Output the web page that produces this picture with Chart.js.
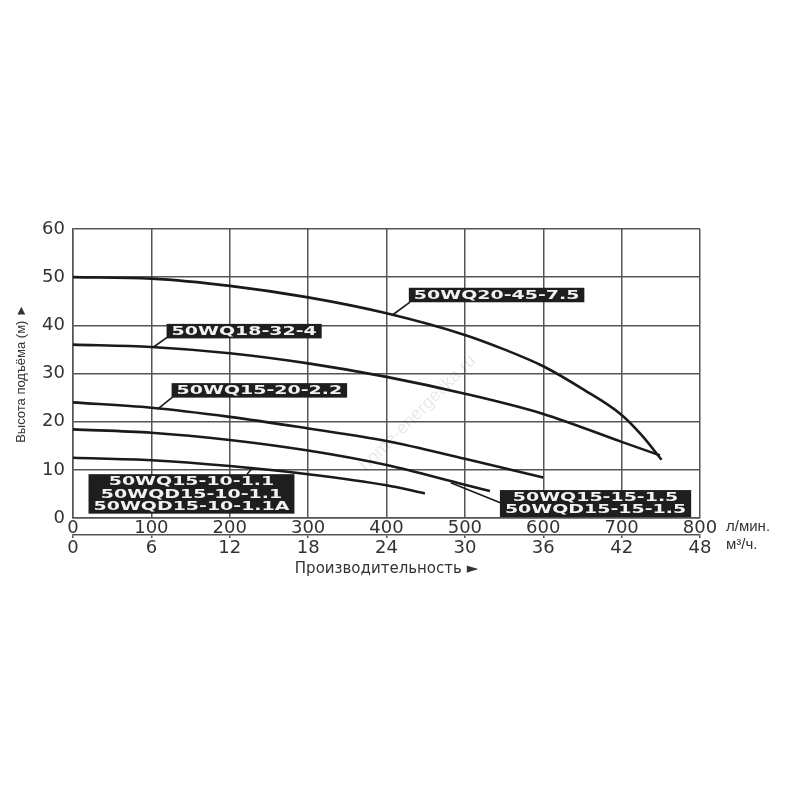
<!DOCTYPE html>
<html>
<head>
<meta charset="utf-8">
<script src="https://cdn.jsdelivr.net/npm/chart.js@4.4.1/dist/chart.umd.min.js"></script>
<style>
  html, body { margin: 0; padding: 0; background: #fff; }
  #wrap { width: 800px; height: 800px; }
</style>
</head>
<body>
<div id="wrap"><canvas id="pump-chart"></canvas></div>
<script>
// pump curves: flow in l/min, head in m
const names = ['50WQ20-45-7.5', '50WQ18-32-4', '50WQ15-20-2.2', '50WQ15-15-1.5', '50WQ15-10-1.1'];

const flow1 = [0, 100, 200, 300, 400, 500, 550, 600, 650, 700, 725, 751];
const head1 = [50, 49.7, 48.2, 45.8, 42.5, 38.0, 35.0, 31.5, 26.8, 21.4, 17.3, 12.1];

const flow2 = [0, 100, 200, 300, 400, 500, 600, 700, 749];
const head2 = [36, 35.5, 34.2, 32.1, 29.3, 25.8, 21.6, 15.8, 13.0];

const flow3 = [0, 100, 200, 300, 400, 500, 600];
const head3 = [24, 22.9, 21.0, 18.6, 16.0, 12.3, 8.4];

const flow4 = [0, 100, 200, 300, 400, 500, 532];
const head4 = [18.4, 17.7, 16.2, 14.0, 11.0, 6.9, 5.6];

const flow5 = [0, 100, 200, 300, 400, 449];
const head5 = [12.5, 12.0, 10.8, 9.1, 6.8, 5.1];

const headTicks = [0, 10, 20, 30, 40, 50, 60];
const lminTicks = [0, 100, 200, 300, 400, 500, 600, 700, 800];
const m3hTicks = [0, 6, 12, 18, 24, 30, 36, 42, 48];

function toPoints(xs, ys) {
  return xs.map((x, i) => ({ x: x, y: ys[i] }));
}

function setTicks(list) {
  return function (scale) {
    scale.ticks = list.map(v => ({ value: v }));
  };
}

// black name boxes with leader lines, positions in data units
const tags = [
  { lines: ['50WQ20-45-7.5'], at: [428.5, 47.8], from: [430, 44.8], to: [408, 42.2] },
  { lines: ['50WQ18-32-4'], at: [119.4, 40.3], from: [121, 37.6], to: [102.8, 35.5] },
  { lines: ['50WQ15-20-2.2'], at: [125.8, 28.0], from: [127, 25.1], to: [107.9, 22.6] },
  { lines: ['50WQ15-10-1.1', '50WQD15-10-1.1', '50WQD15-10-1.1A'], at: [19.8, 9.1], from: [221.6, 9.0], to: [229.2, 10.5] },
  { lines: ['50WQ15-15-1.5', '50WQD15-15-1.5'], at: [544.7, 5.8], from: [546, 3.1], to: [482, 7.3] }
];

const tagPlugin = {
  id: 'tags',
  beforeDatasetsDraw(chart) {
    // faint site watermark
    const ctx = chart.ctx;
    ctx.save();
    ctx.translate(418, 413);
    ctx.rotate(-Math.PI / 4);
    ctx.fillStyle = 'rgba(0,0,0,0.09)';
    ctx.font = '18px "Liberation Sans"';
    ctx.textAlign = 'center';
    ctx.textBaseline = 'middle';
    ctx.fillText('home-energetika.ru', 0, 0);
    ctx.restore();
  },
  afterDatasetsDraw(chart) {
    const ctx = chart.ctx;
    const xs = chart.scales.x, ys = chart.scales.y;
    const stretch = 1.58, lineH = 12.5;
    ctx.save();
    ctx.font = 'bold 12px "DejaVu Sans"';
    tags.forEach(t => {
      ctx.strokeStyle = '#1a1a1a';
      ctx.lineWidth = 1.6;
      ctx.beginPath();
      ctx.moveTo(xs.getPixelForValue(t.from[0]), ys.getPixelForValue(t.from[1]));
      ctx.lineTo(xs.getPixelForValue(t.to[0]), ys.getPixelForValue(t.to[1]));
      ctx.stroke();

      const w = Math.max(...t.lines.map(s => ctx.measureText(s).width)) * stretch + 10;
      const h = t.lines.length * lineH + 2;
      const left = xs.getPixelForValue(t.at[0]);
      const top = ys.getPixelForValue(t.at[1]);
      ctx.fillStyle = '#1e1e1e';
      ctx.fillRect(left, top, w, h);
      ctx.fillStyle = '#f2f2f2';
      ctx.textAlign = 'center';
      ctx.textBaseline = 'middle';
      t.lines.forEach((s, i) => {
        ctx.save();
        ctx.translate(left + w / 2, top + 1.5 + lineH * (i + 0.5));
        ctx.scale(stretch, 1);
        ctx.fillText(s, 0, 0);
        ctx.restore();
      });
    });

    // units next to the flow axes
    ctx.fillStyle = '#333';
    ctx.textAlign = 'left';
    ctx.textBaseline = 'middle';
    ctx.font = '15px "Liberation Sans"';
    ctx.fillText('л/мин.', xs.right + 26, xs.top + 9);
    ctx.fillText('м³/ч.', xs.right + 26, chart.scales.x2.top + 10);
    ctx.restore();
  }
};

const lineStyle = {
  showLine: true,
  fill: false,
  borderColor: '#1a1a1a',
  borderWidth: 2.6,
  pointRadius: 0,
  cubicInterpolationMode: 'monotone'
};

const gridColor = '#555';
const tickFont = { family: 'DejaVu Sans', size: 18 };

new Chart(document.getElementById('pump-chart'), {
  type: 'scatter',
  data: {
    datasets: [
      Object.assign({ label: names[0], data: toPoints(flow1, head1) }, lineStyle),
      Object.assign({ label: names[1], data: toPoints(flow2, head2) }, lineStyle),
      Object.assign({ label: names[2], data: toPoints(flow3, head3) }, lineStyle),
      Object.assign({ label: names[3], data: toPoints(flow4, head4) }, lineStyle),
      Object.assign({ label: names[4], data: toPoints(flow5, head5) }, lineStyle)
    ]
  },
  options: {
    responsive: true,
    maintainAspectRatio: false,
    animation: false,
    layout: { padding: { top: 229, right: 100, bottom: 222, left: 0 } },
    plugins: {
      legend: { display: false },
      tooltip: { enabled: false }
    },
    scales: {
      x: {
        type: 'linear',
        position: 'bottom',
        weight: 0,
        min: 0,
        max: 800,
        afterBuildTicks: setTicks(lminTicks),
        afterFit: s => { s.height = 17; },
        grid: { color: gridColor, lineWidth: 1.5, drawTicks: false },
        border: { color: gridColor, width: 1.5 },
        ticks: { color: '#333', font: tickFont, padding: 0, maxRotation: 0 }
      },
      x2: {
        type: 'linear',
        position: 'bottom',
        weight: 1,
        min: 0,
        max: 48,
        afterBuildTicks: setTicks(m3hTicks),
        afterFit: s => { s.height = 43; },
        grid: { color: gridColor, lineWidth: 1.5, drawOnChartArea: false, drawTicks: true, tickLength: 3 },
        border: { color: gridColor, width: 1.5 },
        ticks: { color: '#333', font: tickFont, padding: 0, maxRotation: 0 },
        title: {
          display: true,
          text: 'Производительность ►',
          color: '#333',
          font: { family: 'DejaVu Sans', size: 15 },
          padding: { top: 1, bottom: 0 }
        }
      },
      y: {
        type: 'linear',
        min: 0,
        max: 60,
        afterBuildTicks: setTicks(headTicks),
        afterFit: s => { s.width = 73; },
        grid: { color: gridColor, lineWidth: 1.5, drawTicks: false },
        border: { color: gridColor, width: 1.5 },
        ticks: { color: '#333', font: tickFont, padding: 8 },
        title: {
          display: true,
          text: 'Высота подъёма (м) ►',
          color: '#333',
          font: { family: 'Liberation Sans', size: 13 },
          padding: { top: 14, bottom: 0 }
        }
      }
    }
  },
  plugins: [tagPlugin]
});
</script>
</body>
</html>
